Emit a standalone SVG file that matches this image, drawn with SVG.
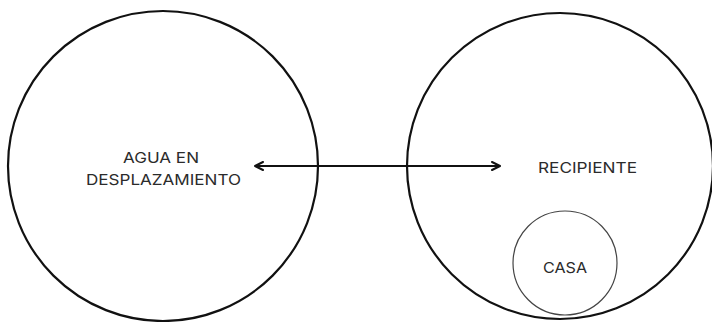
<svg xmlns="http://www.w3.org/2000/svg" width="712" height="322" viewBox="0 0 712 322">
<style>
.big{fill:none;stroke:#111;stroke-width:2.2}
.small{fill:none;stroke:#444;stroke-width:1.2}
.lbl{font-family:Inter,"Liberation Sans",Arial,sans-serif;font-size:15px;fill:#2b2b2b;text-anchor:middle}
.conn{stroke:#111;stroke-width:2;fill:none}
</style>
<defs>
<marker id="ah" viewBox="0 0 10 10" refX="9" refY="5" markerWidth="5" markerHeight="5" orient="auto-start-reverse" markerUnits="strokeWidth">
<path d="M1,1 L9,5 L1,9" fill="none" stroke="#111" stroke-width="2" stroke-linecap="round" stroke-linejoin="round"/>
</marker>
</defs>
<rect width="712" height="322" fill="#fff"/>
<g id="node-agua">
<circle class="big" cx="163" cy="166" r="155"/>
<text class="lbl" x="161" y="163" textLength="76" lengthAdjust="spacingAndGlyphs">AGUA EN</text>
<text class="lbl" x="163.5" y="185" textLength="155" lengthAdjust="spacingAndGlyphs">DESPLAZAMIENTO</text>
</g>
<g id="node-recipiente">
<circle class="big" cx="560" cy="166" r="153"/>
<text class="lbl" x="587.5" y="173" textLength="99" lengthAdjust="spacingAndGlyphs">RECIPIENTE</text>
</g>
<g id="node-casa">
<circle class="small" cx="565" cy="263" r="52"/>
<text class="lbl" x="565" y="273" textLength="44" lengthAdjust="spacingAndGlyphs">CASA</text>
</g>
<g id="connectors">
<line class="conn" x1="255" y1="166" x2="500" y2="166" marker-start="url(#ah)" marker-end="url(#ah)"/>
</g>
</svg>
